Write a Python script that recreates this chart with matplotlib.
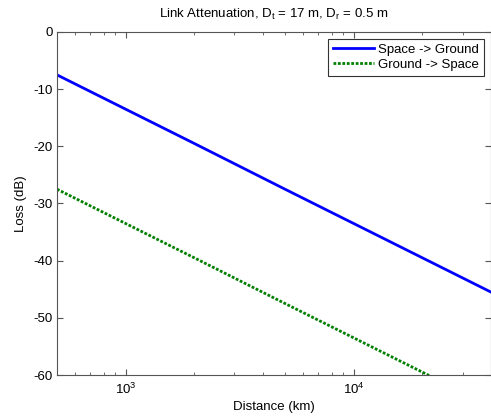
import matplotlib.pyplot as plt

plt.rcParams['font.family'] = ['Liberation Sans', 'DejaVu Sans']
plt.rcParams['mathtext.fontset'] = 'custom'
plt.rcParams['mathtext.rm'] = 'Liberation Sans'
plt.rcParams['mathtext.it'] = 'Liberation Sans'
plt.rcParams['mathtext.default'] = 'regular'
plt.rcParams['axes.unicode_minus'] = False

# Distance (km) and link loss (dB)
distance = [500, 1000, 2000, 5000, 10000, 20000, 40000]
space_to_ground = [-7.5, -13.5, -19.5, -27.5, -33.5, -39.5, -45.5]
ground_to_space = [-27.5, -33.5, -39.5, -47.5, -53.5, -59.5, -65.5]

fig = plt.figure(figsize=(4.91, 4.19), dpi=100)
ax = fig.add_axes([57 / 491, 44 / 419, 434 / 491, 343 / 419])

ax.semilogx(distance, space_to_ground, color='#0000ff', lw=2, label='Space -> Ground')
ax.semilogx(distance, ground_to_space, color='#008000', lw=2, ls=(0, (1, 0.6)),
            label='Ground -> Space')

ax.set_xlim(500, 40000)
ax.set_ylim(-60, 0)
ax.set_yticks([0, -10, -20, -30, -40, -50, -60])
ax.set_xlabel('Distance (km)', fontsize=9.5, labelpad=3)
ax.set_ylabel('Loss (dB)', fontsize=9.5, labelpad=5)
ax.set_title(r'Link Attenuation, D$_t$ = 17 m, D$_r$ = 0.5 m', fontsize=9.5, pad=10)

ax.tick_params(which='both', direction='in', top=True, right=True,
               labelsize=9.5, color='#555555', pad=3)
ax.tick_params(axis='x', which='both', pad=5)
ax.tick_params(which='major', length=4)
ax.tick_params(which='minor', length=2.5)
for s in ax.spines.values():
    s.set_color('#555555')
    s.set_linewidth(0.8)

leg = ax.legend(loc='upper right', fontsize=9.5, handlelength=3.1,
                fancybox=False, framealpha=1, borderaxespad=0.5,
                borderpad=0.4, labelspacing=0.2, handletextpad=0.3)
leg.get_frame().set_edgecolor('#333333')
leg.get_frame().set_linewidth(0.8)

fig.savefig('out.png', dpi=100)
